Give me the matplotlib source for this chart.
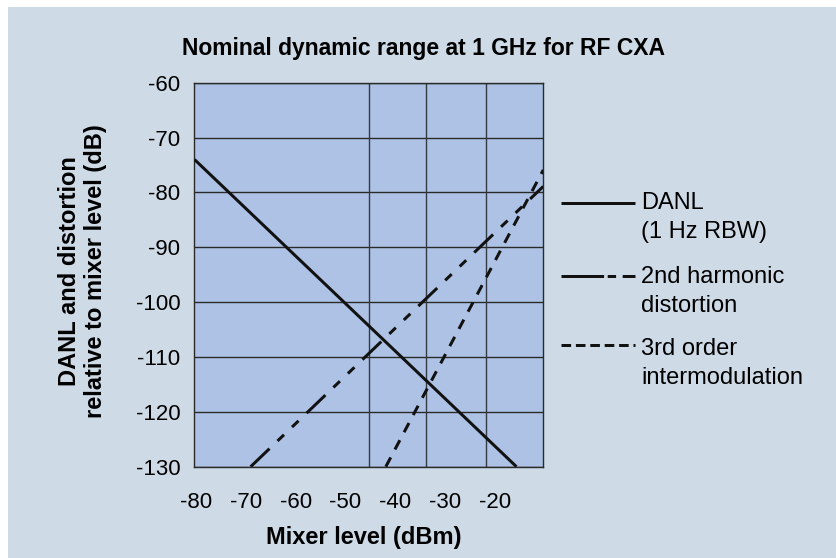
import matplotlib
matplotlib.use("Agg")
import matplotlib.pyplot as plt
from matplotlib.lines import Line2D
from matplotlib.patches import Rectangle

plt.rcParams['font.family'] = ['Liberation Sans', 'DejaVu Sans']

W, H = 837, 558

# tick values
mixer_ticks = [-80, -70, -60, -50, -40, -30, -20]
level_ticks = [-60, -70, -80, -90, -100, -110, -120, -130]
# vertical grid lines in the original do not sit on the ticks
grid_x = [-45.3, -33.9, -21.75]

# lines (mixer level dBm, level dB)
danl_x = [-80.4, -15.6]
danl_y = [-74, -130]
harm2_x = [-69.1, -10.2]
harm2_y = [-130, -78.9]
im3_x = [-41.9, -10.2]
im3_y = [-130, -75.9]

PANEL = '#cedae6'
PLOT_BG = '#adc2e4'
INK = '#111111'
LW = 2.16  # ~3 px

style_danl = '-'
style_harm2 = (0, (8.7, 3.7, 3.0, 3.7, 3.0, 3.7))
style_im3 = (0, (3.5, 3.0))


def fx(x):
    return x / W


def fy(y):
    return 1 - y / H


fig = plt.figure(figsize=(W / 100, H / 100), dpi=100, facecolor='white')
fig.add_artist(Rectangle((fx(8), 0), 1, fy(7), transform=fig.transFigure,
                         facecolor=PANEL, edgecolor='none', zorder=-10))

ax = fig.add_axes([fx(194.3), fy(466.7), (543.3 - 194.3) / W, (466.7 - 82.7) / H])
ax.set_facecolor(PLOT_BG)
ax.set_xlim(-80.44, -10.2)
ax.set_ylim(-130, -60)

ax.set_xticks(mixer_ticks)
ax.set_xticklabels([str(v) for v in mixer_ticks])
ax.set_yticks(level_ticks)
ax.set_yticklabels([str(v) for v in level_ticks])
ax.tick_params(axis='x', length=0, pad=18, labelsize=16)
ax.tick_params(axis='y', length=0, pad=10, labelsize=16)

for y in level_ticks:
    ax.axhline(y, color='#2a2a2a', lw=1.0, zorder=1)
for x in grid_x:
    ax.axvline(x, color='#333a44', lw=1.0, zorder=1)
for s in ax.spines.values():
    s.set_color('#2a2a2a')
    s.set_linewidth(1.0)

ax.plot(danl_x, danl_y, color=INK, lw=LW, ls=style_danl, zorder=3, solid_capstyle='butt')
ax.plot(harm2_x, harm2_y, color=INK, lw=LW, ls=style_harm2, zorder=3, dash_capstyle='butt')
ax.plot(im3_x, im3_y, color=INK, lw=LW, ls=style_im3, zorder=3, dash_capstyle='butt')

# title and axis labels
fig.text(fx(424), fy(55), 'Nominal dynamic range at 1 GHz for RF CXA',
         ha='center', va='baseline', fontsize=16.5, fontweight='bold')
fig.text(fx(364), fy(544), 'Mixer level (dBm)',
         ha='center', va='baseline', fontsize=17, fontweight='bold')
fig.text(fx(76), fy(271), 'DANL and distortion', rotation=90, rotation_mode='anchor',
         ha='center', va='baseline', fontsize=17, fontweight='bold')
fig.text(fx(102), fy(271), 'relative to mixer level (dB)', rotation=90, rotation_mode='anchor',
         ha='center', va='baseline', fontsize=17, fontweight='bold')

# hand made legend to the right of the plot
legend_items = [
    (202.7, 209.3, ['DANL', '(1 Hz RBW)'], style_danl),
    (276.0, 283.0, ['2nd harmonic', 'distortion'], (0, (14.2, 1.2, 2.8, 2.2))),
    (345.0, 355.0, ['3rd order', 'intermodulation'], (0, (3.2, 1.6))),
]
for line_y, base_y, lines, ls in legend_items:
    fig.add_artist(Line2D([fx(560.7), fx(635)], [fy(line_y), fy(line_y)],
                          transform=fig.transFigure, color=INK, lw=LW, ls=ls,
                          solid_capstyle='butt', dash_capstyle='butt'))
    for i, txt in enumerate(lines):
        fig.text(fx(641), fy(base_y + 28.5 * i), txt, ha='left', va='baseline', fontsize=17)

fig.savefig('out.png', dpi=100, facecolor=fig.get_facecolor())
